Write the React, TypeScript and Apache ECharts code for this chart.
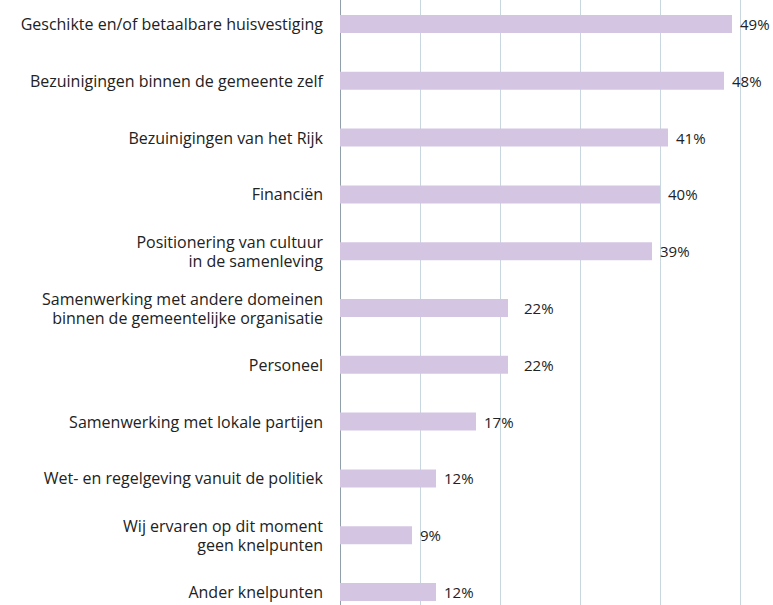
import React, { useEffect, useRef } from "react";
import * as echarts from "echarts";

const categories = [
  "Geschikte en/of betaalbare huisvestiging",
  "Bezuinigingen binnen de gemeente zelf",
  "Bezuinigingen van het Rijk",
  "Financiën",
  "Positionering van cultuur\nin de samenleving",
  "Samenwerking met andere domeinen\nbinnen de gemeentelijke organisatie",
  "Personeel",
  "Samenwerking met lokale partijen",
  "Wet- en regelgeving vanuit de politiek",
  "Wij ervaren op dit moment\ngeen knelpunten",
  "Ander knelpunten",
];
const barValues = [49, 48, 41, 40, 39, 21, 21, 17, 12, 9, 12];
const labelTexts = ["49%", "48%", "41%", "40%", "39%", "22%", "22%", "17%", "12%", "9%", "12%"];
const xTicks = [0, 10, 20, 30, 40, 50];

export default function App() {
  const ref = useRef<HTMLDivElement>(null);
  useEffect(() => {
    if (!ref.current) return;
    const chart = echarts.init(ref.current, null, { renderer: "svg" });
    const font = "Open Sans";
    chart.setOption({
      animation: false,
      grid: { left: 340, right: 33, top: 5.6, height: 624.8, containLabel: false },
      xAxis: {
        type: "value",
        min: xTicks[0],
        max: xTicks[xTicks.length - 1],
        interval: 10,
        axisLabel: { show: false },
        axisLine: { show: false },
        axisTick: { show: false },
        splitLine: { show: true, lineStyle: { color: "#c8d6e0", width: 1 } },
      },
      yAxis: {
        type: "category",
        inverse: true,
        data: categories,
        axisLine: { show: true, lineStyle: { color: "#8fa0ab", width: 1 } },
        axisTick: { show: false },
        axisLabel: {
          margin: 17,
          fontFamily: font,
          fontSize: 16,
          color: "#222",
          lineHeight: 19,
          align: "right",
        },
      },
      series: [
        {
          type: "bar",
          data: barValues.map((v, i) => ({
            value: v,
            label: { formatter: labelTexts[i], offset: labelTexts[i] === "22%" ? [8, 0] : [0, 0] },
          })),
          barWidth: 18,
          itemStyle: { color: "#d4c6e2" },
          label: {
            show: true,
            position: "right",
            distance: 8,
            fontFamily: font,
            fontSize: 15,
            color: "#222",
          },
        },
      ],
    });
    return () => chart.dispose();
  }, []);
  return (
    <div style={{ position: "absolute", left: 0, top: 0, width: 773, height: 605, overflow: "hidden", background: "#fff" }}>
      <div ref={ref} style={{ position: "absolute", left: 0, top: -10, width: 773, height: 640 }} />
    </div>
  );
}
